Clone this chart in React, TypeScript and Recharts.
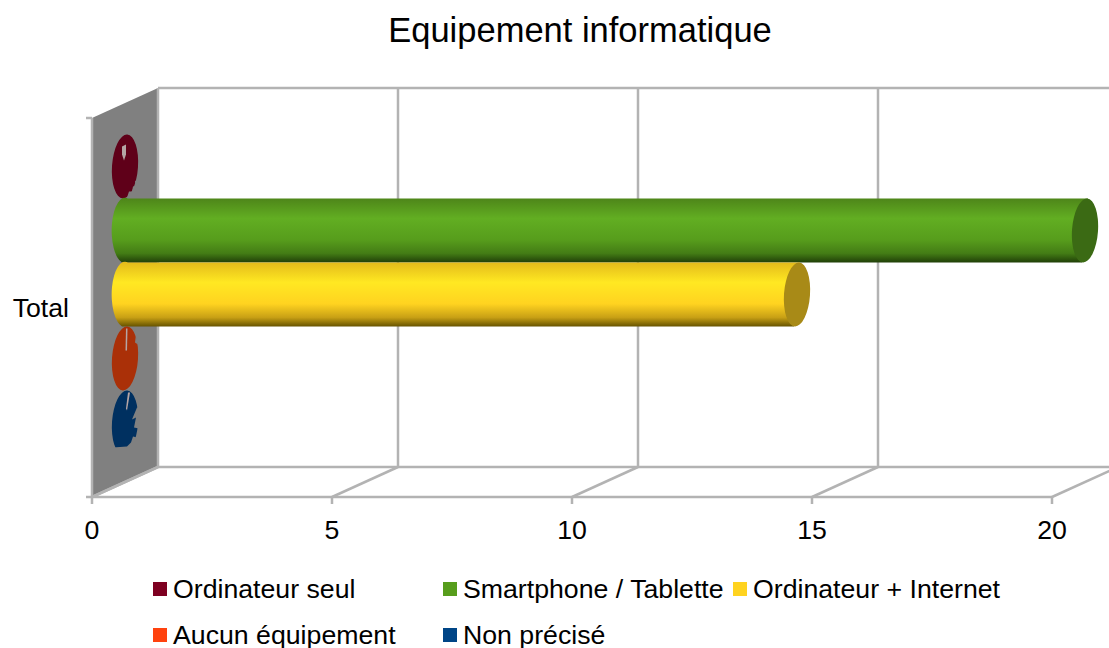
import React from "react";
import { BarChart, Bar, XAxis, YAxis, Legend } from "recharts";

const categories = ["Total"];
const seriesNames = [
  "Ordinateur seul",
  "Smartphone / Tablette",
  "Ordinateur + Internet",
  "Aucun équipement",
  "Non précisé",
];
const seriesValues = [0, 20, 14, 0, 0];
const seriesColors = ["#7e0021", "#579d1c", "#ffd320", "#ff420e", "#004586"];
const capColors = ["#5f0019", "#3b6a14", "#a88a17", "#aa3008", "#003060"];
const topColors = ["#7e0021", "#4d8419", "#e2b91a", "#ff420e", "#004586"];
const midColors = ["#7e0021", "#62ae22", "#ffe822", "#ff420e", "#004586"];
const lowColors = ["#7e0021", "#437c15", "#c8a015", "#ff420e", "#004586"];
const edgeColors = ["#4a0014", "#203f08", "#665300", "#8a2405", "#00264a"];
const xTicks = [0, 5, 10, 15, 20];

const data = categories.map((name) => {
  const row: Record<string, string | number> = { name };
  seriesNames.forEach((s, i) => {
    row[s] = seriesValues[i];
  });
  return row;
});

const W = 1109;
const H = 648;
const yAxisW = 92;
const xAxisH = 50;
const margin = { top: 118, right: 57, bottom: 101, left: 0 };
const plotL = margin.left + yAxisW;
const plotW = W - plotL - margin.right;
const plotB = H - margin.bottom - xAxisH;
// depth of the fake 3D box
const DX = 66;
const DY = -30;
const GRID = "#b3b3b3";
const WALL = "#808080";
const FONT = "'Liberation Sans', Arial, sans-serif";
const FS = 26.7;

// the flat discs are rough in the original: bits of wall showing through,
// given relative to the disc centre
const discCuts: Record<number, string[]> = {
  0: ["M13,12 L10,15 L11,19 L8,20 L7,25 L4,25 L2,31 L16,34 L16,12 Z"],
  3: ["M11,-24 L13,-14 L10,-16 Z"],
  4: [
    "M12,-15 L7,-3 L11,-5 L9,5 L14,6 L15,-15 Z",
    "M12,15 L8,14 L6,20 L2,24 L-12,25 L-14,36 L16,36 L16,15 Z",
  ],
};
const discFlecks: Record<number, string[]> = {
  0: ["M-3,-20 L1,-22 L1,-12 L-1,-6 L-3,-12 Z"],
  3: ["M1,-30 L2.5,-30 L2,-8 L0.5,-8 Z"],
  4: ["M3,-30 L5,-30 L2,-12 L1,-14 Z"],
};

const tickX = (t: number) => plotL + (t / 20) * plotW;

function Frame() {
  const backL = plotL + DX;
  const backT = margin.top + DY;
  const backB = plotB + DY;
  return (
    <g>
      <text x={580} y={42} textAnchor="middle" fontFamily={FONT} fontSize={34.5} fill="#000">
        Equipement informatique
      </text>
      <polygon
        points={`${plotL},${margin.top} ${plotL},${plotB} ${backL},${backB} ${backL},${backT}`}
        fill={WALL}
      />
      <g stroke={GRID} strokeWidth={2.5} fill="none">
        <line x1={plotL} y1={margin.top} x2={plotL} y2={plotB} />
        <line x1={plotL} y1={plotB} x2={backL} y2={backB} />
        <line x1={backL} y1={backT} x2={W} y2={backT} />
        <line x1={backL} y1={backB} x2={W} y2={backB} />
        <line x1={plotL} y1={plotB} x2={W - margin.right} y2={plotB} />
        <line x1={plotL - 6} y1={margin.top} x2={plotL} y2={margin.top} />
        <line x1={plotL - 6} y1={plotB} x2={plotL} y2={plotB} />
        {xTicks.map((t) => (
          <g key={t}>
            <line x1={tickX(t) + DX} y1={backT} x2={tickX(t) + DX} y2={backB} />
            <line x1={tickX(t)} y1={plotB} x2={tickX(t) + DX} y2={backB} />
          </g>
        ))}
      </g>
      <defs>
        {seriesColors.map((c, i) => (
          <linearGradient key={c} id={`cyl${i}`} x1="0" y1="0" x2="0" y2="1">
            <stop offset="0%" stopColor={topColors[i]} />
            <stop offset="32%" stopColor={midColors[i]} />
            <stop offset="65%" stopColor={seriesColors[i]} />
            <stop offset="86%" stopColor={lowColors[i]} />
            <stop offset="100%" stopColor={edgeColors[i]} />
          </linearGradient>
        ))}
      </defs>
    </g>
  );
}

// cylinder sitting halfway into the box depth
function Cylinder(props: any) {
  const { x, y, width, height, seriesIndex } = props;
  const cx0 = x + DX / 2;
  const cy = y + DY / 2 + 1.5;
  const rx = 13;
  const ry = height / 2;
  const tilt = 4;
  const cap = capColors[seriesIndex];
  if (!width) {
    const at = `translate(${cx0} ${cy + ry})`;
    return (
      <g>
        <ellipse
          cx={cx0}
          cy={cy + ry}
          rx={rx}
          ry={ry}
          transform={`rotate(${tilt} ${cx0} ${cy + ry})`}
          fill={cap}
        />
        {(discCuts[seriesIndex] || []).map((d) => (
          <path key={d} d={d} transform={at} fill={WALL} />
        ))}
        {(discFlecks[seriesIndex] || []).map((d) => (
          <path key={d} d={d} transform={at} fill="#b5a5a5" />
        ))}
      </g>
    );
  }
  const x1 = cx0 + width;
  const lean = 3;
  const d = `M${cx0 + lean},${cy} L${x1 + lean},${cy} L${x1 - lean},${cy + height} L${cx0 - lean},${cy + height} A${rx},${ry} 0 0 1 ${cx0 + lean},${cy} Z`;
  return (
    <g>
      <path d={d} fill={`url(#cyl${seriesIndex})`} />
      <ellipse
        cx={x1}
        cy={cy + ry}
        rx={rx}
        ry={ry}
        transform={`rotate(${tilt} ${x1} ${cy + ry})`}
        fill={cap}
      />
    </g>
  );
}

function LegendBox({ payload }: any) {
  return (
    <div
      style={{
        display: "grid",
        gridTemplateColumns: "290px 290px auto",
        gridAutoRows: "46px",
        fontFamily: FONT,
        fontSize: FS,
        color: "#000",
      }}
    >
      {(payload || []).map((p: any) => (
        <div key={p.value} style={{ display: "flex", alignItems: "center", whiteSpace: "nowrap" }}>
          <span style={{ width: 14, height: 14, background: p.color, marginRight: 6, flex: "none" }} />
          {p.value}
        </div>
      ))}
    </div>
  );
}

export default function App() {
  return (
    <div style={{ position: "absolute", left: 0, top: 0, width: W, height: H, background: "#fff" }}>
      <BarChart
        width={W}
        height={H}
        data={data}
        layout="vertical"
        margin={margin}
        barCategoryGap={30}
        barGap={0}
      >
        <Frame />
        <XAxis
          type="number"
          domain={[0, 20]}
          ticks={xTicks}
          height={xAxisH}
          axisLine={false}
          tickLine={{ stroke: GRID, strokeWidth: 2.5 }}
          tickSize={7}
          tickMargin={16}
          tick={{ fontSize: FS, fontFamily: FONT, fill: "#000" }}
          interval={0}
        />
        <YAxis
          type="category"
          dataKey="name"
          width={yAxisW}
          axisLine={false}
          tickLine={false}
          tickSize={0}
          tickMargin={23}
          tick={{ fontSize: FS, fontFamily: FONT, fill: "#000" }}
        />
        <Legend
          layout="vertical"
          align="center"
          verticalAlign="middle"
          itemSorter={null}
          content={<LegendBox />}
          wrapperStyle={{ position: "absolute", left: 153, top: 566, width: 880, height: 92 }}
        />
        {seriesNames.map((s, i) => (
          <Bar
            key={s}
            dataKey={s}
            fill={seriesColors[i]}
            isAnimationActive={false}
            shape={(p: any) => <Cylinder {...p} seriesIndex={i} />}
          />
        ))}
      </BarChart>
    </div>
  );
}
